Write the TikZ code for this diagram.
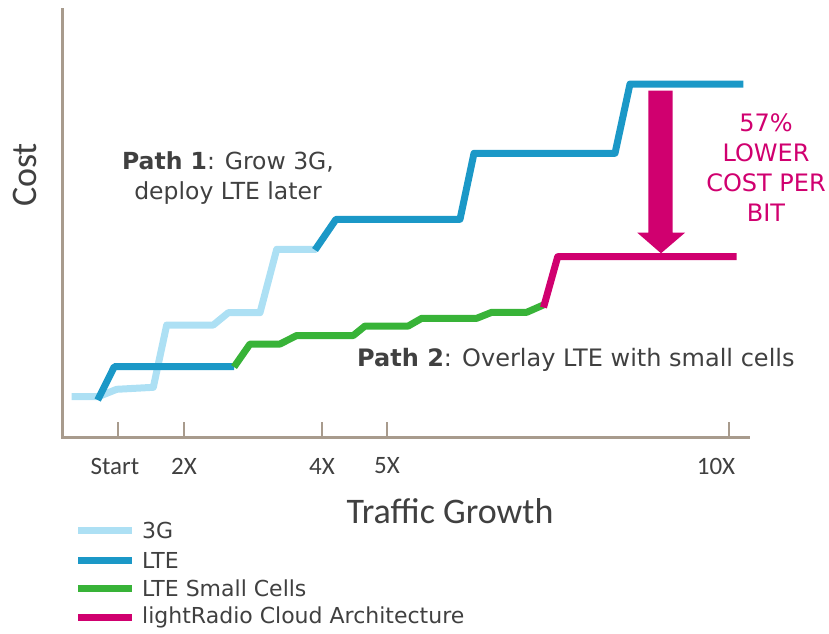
\documentclass[tikz,border=0pt]{standalone}
\usepackage{fontspec}
\setmainfont{DejaVu Sans}
\newfontfamily\calib{Carlito}
\definecolor{c3g}{HTML}{ADE0F4}
\definecolor{clte}{HTML}{1B98C7}
\definecolor{cgreen}{HTML}{38B338}
\definecolor{cmag}{HTML}{D0006F}
\definecolor{caxis}{HTML}{A89B8D}
\definecolor{ctext}{HTML}{404040}
\begin{document}
\begin{tikzpicture}[x=1pt,y=-1pt,
  axisline/.style={draw=caxis,line width=3pt},
  tickline/.style={draw=caxis,line width=1.5pt},
  curve/.style={line width=7pt,line join=round},
  ticklabel/.style={text=ctext,font=\calib\fontsize{25}{28}\selectfont,inner sep=0pt},
  pathtext/.style={text=ctext,inner sep=0pt},
  legtext/.style={text=ctext,font=\fontsize{22}{24}\selectfont,inner sep=0pt,anchor=west},
  bigtitle/.style={text=ctext,font=\calib\fontsize{36}{40}\selectfont,inner sep=0pt}]
\useasboundingbox (0,0) rectangle (829,633);
% axes
\coordinate (ytop) at (62,8);
\coordinate (orig) at (62,437);
\coordinate (xend) at (750,437);
\draw[axisline] (ytop) -- (orig) -- (xend);
\foreach \x in {118,184,322,387,729}{
  \draw[tickline] (\x,422) -- (\x,437);
}
\node[ticklabel] (tStart) at (115,466) {Start};
\node[ticklabel] (t2) at (184,466) {2X};
\node[ticklabel] (t4) at (322,466) {4X};
\node[ticklabel] (t5) at (387,466) {5X};
\node[ticklabel] (t10) at (716,466) {10X};
\node[bigtitle] (xtitle) at (450,511) {Traffic Growth};
\node[bigtitle,rotate=90] (ytitle) at (25,175) {Cost};
% curves
\draw[curve,c3g] (71.7,396.7) -- (98.3,396.7) -- (116.7,389.3) -- (153.3,387.3) -- (166.7,325) -- (213.3,325) -- (228.3,312.7) -- (260,312.7) -- (276.7,249.3) -- (316.7,249.3);
\draw[curve,clte] (97.7,400) -- (114.3,366.7) -- (234,366.7);
\draw[curve,clte] (315,250) -- (336,219.3) -- (460,219.3) -- (474,153.3) -- (615,153.3) -- (630,84) -- (743.3,84);
\draw[curve,cgreen] (234,367) -- (250,344) -- (280,344) -- (296.7,335.5) -- (353.3,335.5) -- (365,326) -- (408.3,326) -- (421.7,318.3) -- (476.7,318.3) -- (491.7,312.3) -- (526.7,312.3) -- (543.3,305);
\draw[curve,cmag] (543.5,307.5) -- (557.7,256.7) -- (736.7,256.7);
% arrow
\fill[cmag] (648.3,90.7) -- (672.7,90.7) -- (672.7,232.7) -- (685,232.7) -- (661,253.3) -- (637.3,232.7) -- (648.3,232.7) -- cycle;
\node[text=cmag,font=\fontsize{24}{30}\selectfont,align=center,inner sep=0pt] (saving) at (766,168) {57\%\\LOWER\\COST PER\\BIT};
% path labels
\node[pathtext,font=\fontsize{23.5}{30}\selectfont,align=center] (path1) at (228,178) {\textbf{Path 1}: Grow 3G,\\deploy LTE later};
\node[pathtext,font=\fontsize{24}{30}\selectfont,anchor=west] (path2) at (357,360) {\textbf{Path 2}: Overlay LTE with small cells};
% legend
\foreach \y/\c in {530/c3g,560/clte,588/cgreen,617/cmag}{
  \draw[\c,line width=7pt] (78,\y) -- (132,\y);
}
\node[legtext] (l1) at (142,530) {3G};
\node[legtext] (l2) at (142,560) {LTE};
\node[legtext] (l3) at (142,588) {LTE Small Cells};
\node[legtext] (l4) at (142,617) {lightRadio Cloud Architecture};
\end{tikzpicture}
\end{document}
